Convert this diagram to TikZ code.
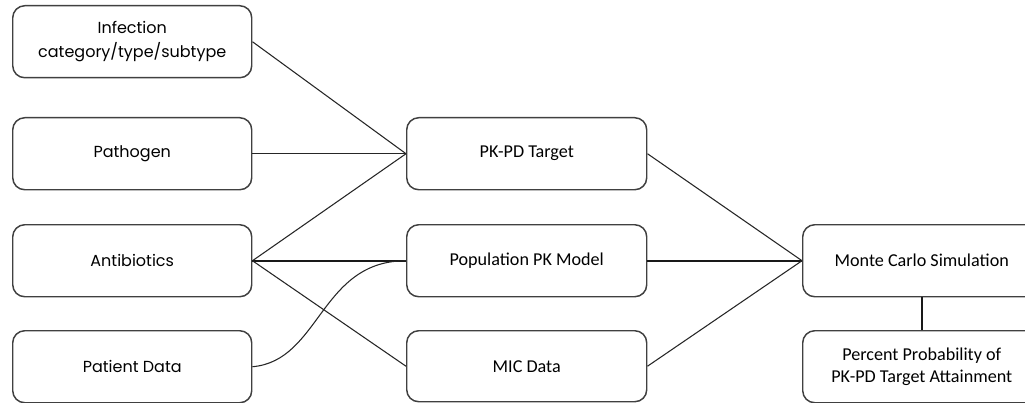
\documentclass[tikz,border=0pt]{standalone}
\usepackage{fontspec}
\setmainfont{Carlito}
\newfontfamily\leftfont{Poppins}
\begin{document}
\begin{tikzpicture}[x=0.75pt,y=-0.75pt,
  box/.style={draw=black!75,line width=1.1pt,rounded corners=9pt,fill=white,minimum width=239*0.75pt,minimum height=72*0.75pt,inner sep=0pt,align=center,anchor=north west,font=\fontsize{13.6}{16.5}\selectfont},
  lbox/.style={box,font=\leftfont\fontsize{12}{18}\selectfont},
  thin/.style={line width=0.8pt,black!85},
  thick/.style={line width=1.6pt,black!90}]
\useasboundingbox (0,0) rectangle (1025,403);
\clip (0,0) rectangle (1025,403);
\node[lbox] (inf) at (12,5) {Infection\\category/type/subtype};
\node[lbox] (path) at (12,117) {Pathogen};
\node[lbox] (anti) at (12,224) {Antibiotics};
\node[lbox] (pat) at (12,330) {Patient Data};
\node[box,minimum width=240*0.75pt] (pkpd) at (406,117) {PK-PD Target};
\node[box,minimum width=240*0.75pt] (pop) at (406,224) {Population PK Model};
\node[box,minimum width=240*0.75pt,minimum height=71*0.75pt] (mic) at (406,330) {MIC Data};
\node[box,minimum width=238*0.75pt] (mc) at (802,224) {Monte Carlo Simulation};
\node[box,minimum width=238*0.75pt] (pct) at (802,330) {Percent Probability of\\PK-PD Target Attainment};
\draw[thin] (inf.east) -- (pkpd.west);
\draw[thin] (path.east) -- (pkpd.west);
\draw[thin] (anti.east) -- (pkpd.west);
\draw[thick] (anti.east) -- (pop.west);
\draw[thin] (anti.east) -- (mic.west);
\draw[thin] (pat.east) .. controls +(68,-6) and +(-86,0) .. (pop.west);
\draw[thin] (pkpd.east) -- (mc.west);
\draw[thick] (pop.east) -- (mc.west);
\draw[thin] (mic.east) -- (mc.west);
\draw[thick] (mc.south) -- (pct.north);
\end{tikzpicture}
\end{document}
